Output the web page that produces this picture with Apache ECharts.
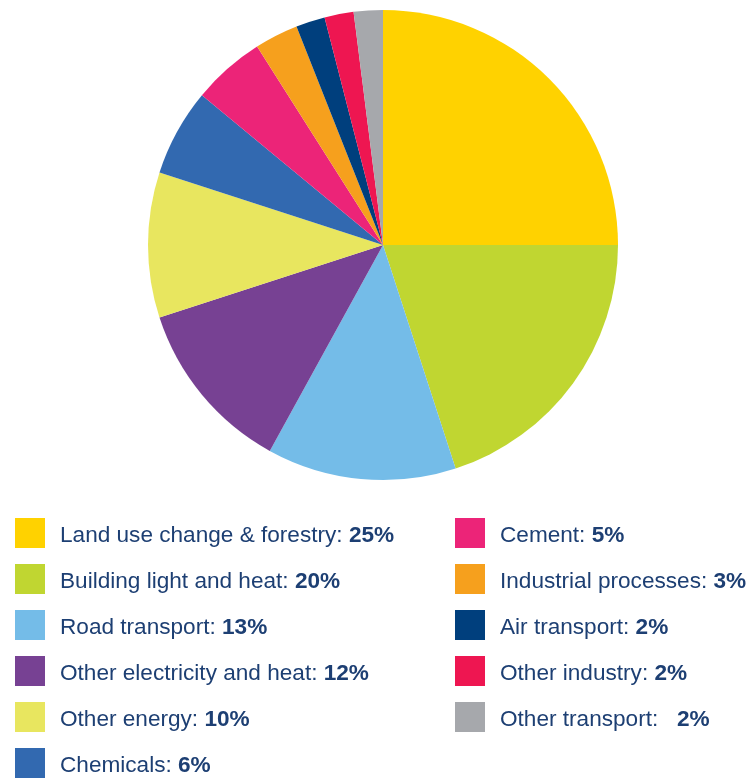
<!DOCTYPE html>
<html>
<head>
<meta charset="utf-8">
<script src="https://cdn.jsdelivr.net/npm/echarts@6/dist/echarts.min.js"></script>
<style>
  html, body { margin: 0; padding: 0; background: #ffffff; }
  #chart { width: 752px; height: 778px; }
</style>
</head>
<body>
<div id="chart"></div>
<script>
// Emission sources, share of global greenhouse gas emissions (%)
const sectors = [
  'Land use change & forestry',
  'Building light and heat',
  'Road transport',
  'Other electricity and heat',
  'Other energy',
  'Chemicals',
  'Cement',
  'Industrial processes',
  'Air transport',
  'Other industry',
  'Other transport'
];
const shares = [25, 20, 13, 12, 10, 6, 5, 3, 2, 2, 2];
const sectorColors = [
  '#ffd200', '#c0d631', '#74bce8', '#774193', '#e8e65f', '#3269b0',
  '#ec2478', '#f6a01d', '#003f7d', '#ee1651', '#a6a8ac'
];

const leftColumn = sectors.slice(0, 6);
const rightColumn = sectors.slice(6);

const textColor = '#1d3f73';
const font = 'Liberation Sans, Arial, sans-serif';
const fontSize = 22.6;

function legendLabel(name) {
  const v = shares[sectors.indexOf(name)];
  const sep = name === 'Other transport' ? ':   ' : ': ';
  return '{n|' + name + sep + '}{v|' + v + '%}';
}

const legendText = {
  color: textColor,
  fontFamily: font,
  fontSize: fontSize,
  padding: [5, 0, 0, 10],
  rich: {
    n: { color: textColor, fontSize: fontSize, fontFamily: font },
    v: { color: textColor, fontSize: fontSize, fontWeight: 'bold', fontFamily: font }
  }
};

function makeLegend(names, left) {
  return {
    data: names,
    orient: 'vertical',
    left: left,
    top: 518,
    height: 300,
    padding: 0,
    itemWidth: 30,
    itemHeight: 30,
    itemGap: 16,
    icon: 'rect',
    selectedMode: false,
    formatter: legendLabel,
    textStyle: legendText
  };
}

const chart = echarts.init(document.getElementById('chart'), null, { renderer: 'canvas' });
chart.setOption({
  animation: false,
  backgroundColor: '#ffffff',
  legend: [makeLegend(leftColumn, 15), makeLegend(rightColumn, 455)],
  series: [{
    type: 'pie',
    center: [383, 245],
    radius: [0, 235],
    startAngle: 90,
    clockwise: true,
    label: { show: false },
    labelLine: { show: false },
    itemStyle: { borderWidth: 0 },
    emphasis: { disabled: true },
    data: sectors.map((name, i) => ({
      name: name,
      value: shares[i],
      itemStyle: { color: sectorColors[i] }
    }))
  }]
});
</script>
</body>
</html>
